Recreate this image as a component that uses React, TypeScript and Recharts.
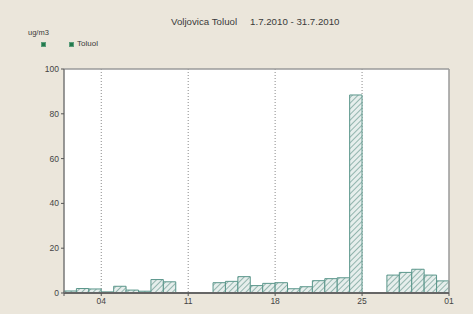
import { Bar, BarChart, CartesianGrid, ReferenceLine, XAxis, YAxis } from "recharts";

// one value per day of July 2010, null = no measurement
const days = Array.from({ length: 31 }, (_, i) => i + 1);
const toluol: (number | null)[] = [
  0.9, 2.0, 1.8, 0.5, 3.0, 1.3, 0.8, 6.0, 5.0, null,
  null, null, 4.6, 5.2, 7.3, 3.3, 4.3, 4.6, 1.9, 2.8,
  5.5, 6.4, 6.8, 88.4, null, null, 8.0, 9.2, 10.6, 8.0,
  5.4,
];

const weekTicks = [3, 10, 17, 24, 31];
const weekLabels = ["04", "11", "18", "25", "01"];
const yTicks = [0, 20, 40, 60, 80, 100];

const data = days.map((day, i) => ({ pos: day - 0.5, value: toluol[i] }));

const CHART_W = 473;
const CHART_H = 314;
const FONT = "'Liberation Sans', Arial, sans-serif";

const legendSquare = (left: number) => (
  <div
    style={{
      position: "absolute",
      left,
      top: 42,
      width: 3,
      height: 3,
      background: "#237a4c",
      border: "1px solid #5a9c7a",
    }}
  />
);

export default function App() {
  return (
    <div style={{ position: "relative", width: CHART_W, height: CHART_H, background: "#ebe6db", fontFamily: FONT }}>
      <style>{"body{margin:0}"}</style>
      <div style={{ position: "absolute", left: 171, top: 16, fontSize: 9.7, color: "#3a3a3a", whiteSpace: "nowrap" }}>
        <span>Voljovica Toluol</span>
        <span style={{ marginLeft: 13 }}>1.7.2010 - 31.7.2010</span>
      </div>
      <div style={{ position: "absolute", left: 28, top: 28, fontSize: 7.5, color: "#3a3a3a" }}>ug/m3</div>
      {legendSquare(41)}
      {legendSquare(69)}
      <div style={{ position: "absolute", left: 77, top: 39, fontSize: 8, color: "#3a3a3a" }}>Toluol</div>

      <div style={{ position: "absolute", left: 0, top: 0 }}>
        <BarChart width={CHART_W} height={CHART_H} data={data} margin={{ top: 69, right: 24, bottom: 5, left: 34 }}>
          <defs>
            <pattern id="hatch" patternUnits="userSpaceOnUse" width="4" height="4" patternTransform="rotate(45)">
              <rect width="4" height="4" fill="#e6eeec" />
              <line x1="0" y1="0" x2="0" y2="4" stroke="#93b5ae" strokeWidth="2" />
            </pattern>
          </defs>
          <CartesianGrid
            horizontal={false}
            fill="#ffffff"
            stroke="#8a8a8a"
            strokeDasharray="1 2"
            verticalValues={weekTicks.slice(0, 4)}
          />
          <ReferenceLine y={100} stroke="#9a9a9a" strokeWidth={1.5} />
          <ReferenceLine x={31} stroke="#9a9a9a" strokeWidth={1.5} />
          <XAxis
            dataKey="pos"
            type="number"
            domain={[0, 31]}
            ticks={[0, ...weekTicks]}
            tickFormatter={(v) => {
              const idx = weekTicks.indexOf(Number(v));
              return idx >= 0 ? weekLabels[idx] : "";
            }}
            interval={0}
            height={16}
            tickSize={3}
            axisLine={{ stroke: "#666", strokeWidth: 2 }}
            tickLine={{ stroke: "#555" }}
            tick={{ fill: "#444", fontSize: 8.5, fontFamily: FONT }}
          />
          <YAxis
            type="number"
            domain={[0, 100]}
            ticks={yTicks}
            interval={0}
            width={30}
            tickSize={3}
            axisLine={{ stroke: "#777", strokeWidth: 1.5 }}
            tickLine={{ stroke: "#555" }}
            tick={{ fill: "#444", fontSize: 8.5, fontFamily: FONT }}
          />
          <Bar dataKey="value" barSize={12.4} fill="url(#hatch)" stroke="#5a968b" strokeWidth={1} isAnimationActive={false} />
        </BarChart>
      </div>
    </div>
  );
}
